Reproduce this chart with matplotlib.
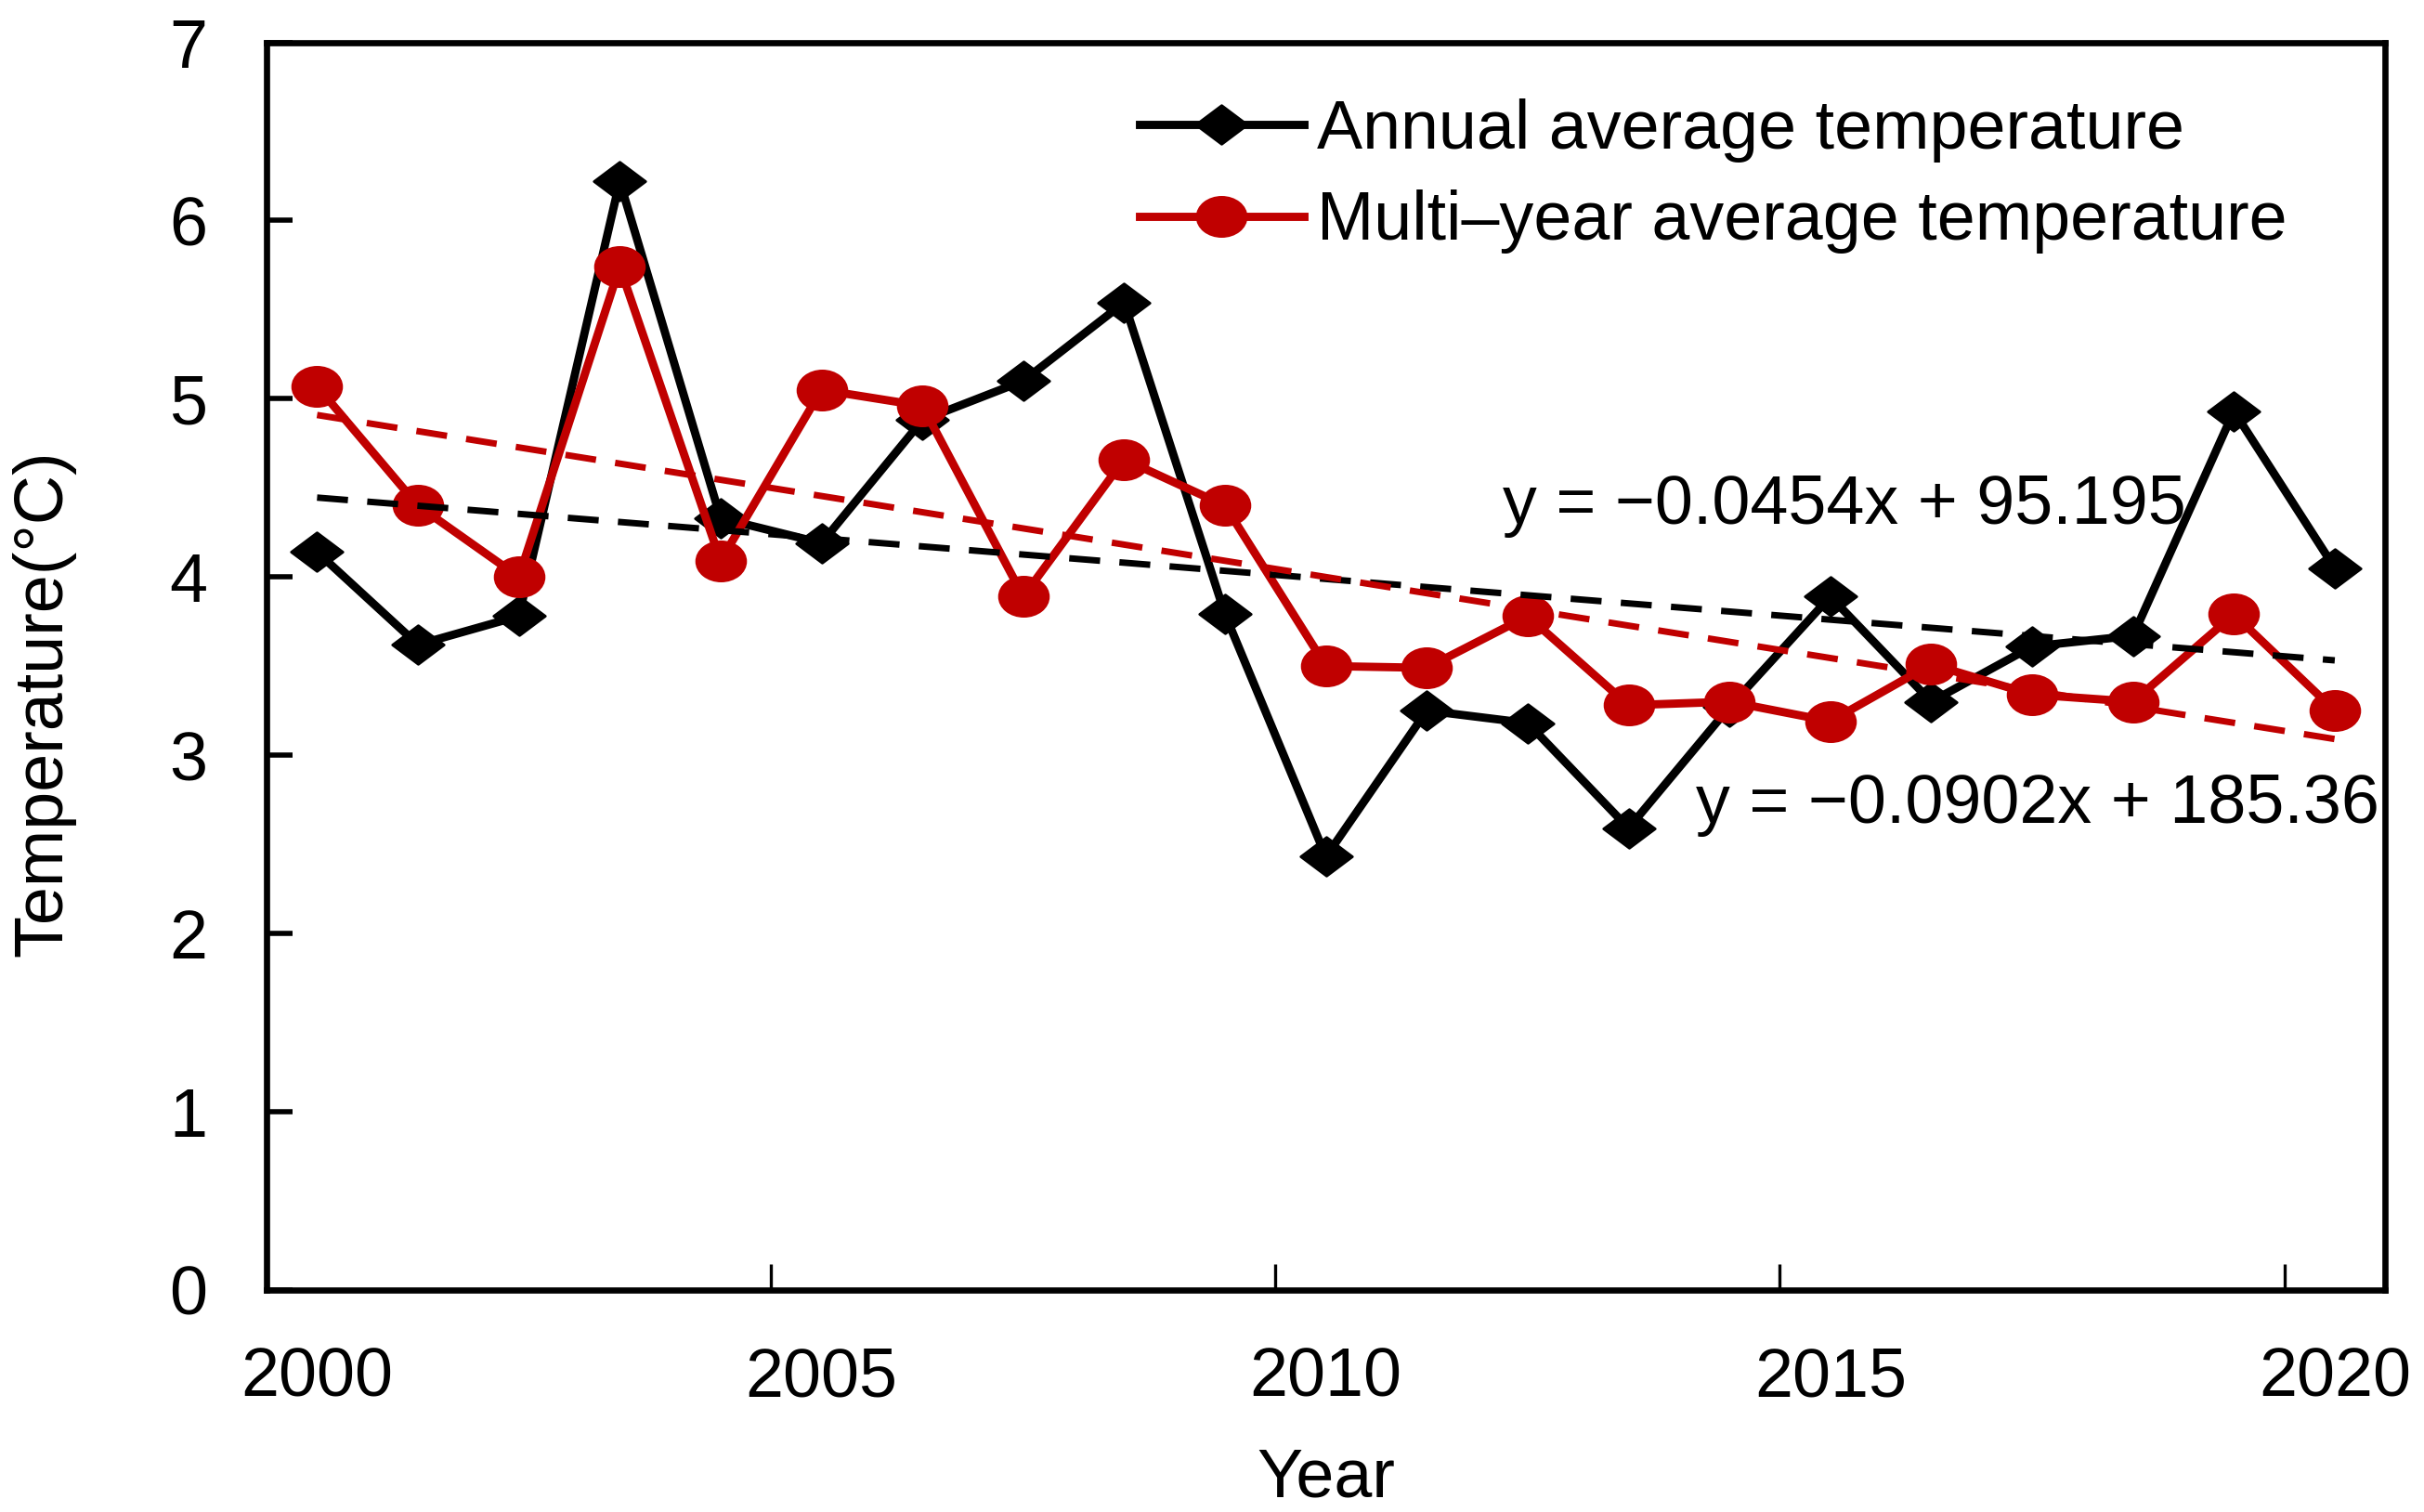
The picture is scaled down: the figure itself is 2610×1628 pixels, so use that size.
import numpy as np
import matplotlib.pyplot as plt
from matplotlib.path import Path

years = np.arange(2000, 2021)
annual = [4.14, 3.62, 3.78, 6.22, 4.33, 4.19, 4.88, 5.10, 5.54, 3.79,
          2.43, 3.25, 3.18, 2.59, 3.27, 3.89, 3.30, 3.61, 3.67, 4.93, 4.05]
multi = [5.07, 4.40, 4.00, 5.74, 4.09, 5.05, 4.96, 3.89, 4.66, 4.40,
         3.50, 3.49, 3.78, 3.28, 3.30, 3.19, 3.51, 3.34, 3.30, 3.79, 3.25]
labels = ['Annual average temperature', 'Multi\u2013year average temperature']
eq_annual = 'y = \u22120.0454x + 95.195'
eq_multi = 'y = \u22120.0902x + 185.36'
red = '#C00000'

plt.rcParams['font.family'] = ['Liberation Sans', 'DejaVu Sans']
plt.rcParams['font.size'] = 26.5

# slightly flattened markers, like the original
diamond = Path([(-1, 0), (0, 0.75), (1, 0), (0, -0.75), (-1, 0)],
               [Path.MOVETO, Path.LINETO, Path.LINETO, Path.LINETO, Path.CLOSEPOLY])
circ = Path.unit_circle()
ellipse = Path(circ.vertices * [1, 0.8], circ.codes)

fig = plt.figure(figsize=(13.05, 8.14), dpi=200)
ax = fig.add_axes([0.110, 0.147, 0.874, 0.825])

ax.plot(years, annual, color='k', lw=3.2, marker=diamond, ms=20, label=labels[0])
ax.plot(years, multi, color=red, lw=3.2, marker=ellipse, ms=19, label=labels[1])

# linear trend lines
for vals, c in [(annual, 'k'), (multi, red)]:
    p = np.polyfit(years, vals, 1)
    xs = years[[0, -1]]
    ax.plot(xs, np.polyval(p, xs), color=c, lw=2.5, ls=(0, (4.8, 3)))

ax.text(2011.75, 4.40, eq_annual, va='center', ha='left')
ax.text(2013.67, 2.72, eq_multi, va='center', ha='left')

ax.set_xlim(1999.5, 2020.5)
ax.set_ylim(0, 7)
ax.set_yticks(range(8))
ax.set_xticks(np.arange(2000, 2021, 5))
ax.set_xticks(np.arange(1999.5, 2020, 5), minor=True)
ax.tick_params(axis='x', which='major', length=0, pad=22)
ax.tick_params(axis='x', which='minor', direction='in', length=10, width=1.2)
ax.tick_params(axis='y', direction='in', length=10, width=2, pad=23)
for s in ax.spines.values():
    s.set_linewidth(2.4)

ax.set_xlabel('Year', labelpad=14)
ax.set_ylabel('Temperature(\u00b0C)')
ax.yaxis.set_label_coords(-0.09, 0.47)

ax.legend(loc='upper left', bbox_to_anchor=(0.412, 0.955), frameon=False,
          handlelength=2.4, handletextpad=0.2, labelspacing=0.4,
          borderaxespad=0, borderpad=0)

fig.savefig('out.png', dpi=200)
